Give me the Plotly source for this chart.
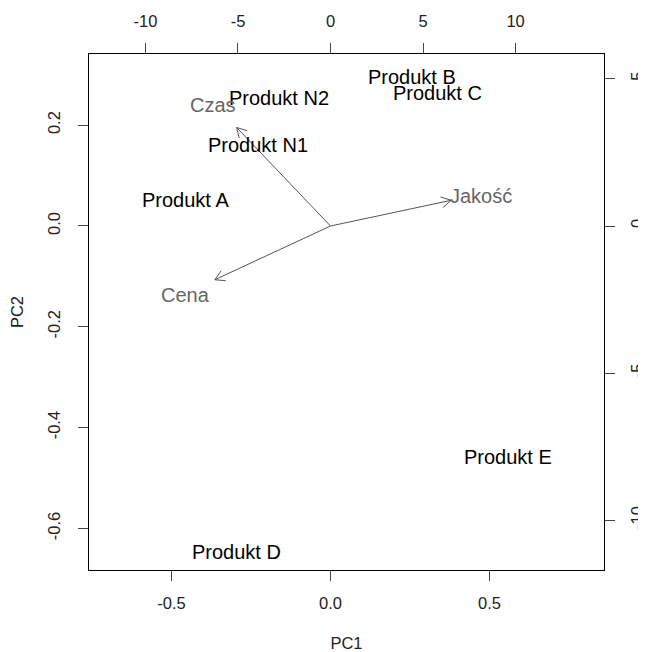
import numpy as np
import plotly.graph_objects as go

# Observations (scores) on PC1 / PC2 (bottom / left axes)
obs_names = ["Produkt A", "Produkt B", "Produkt C", "Produkt D",
             "Produkt E", "Produkt N1", "Produkt N2"]
pc1 = [-0.456, 0.256, 0.338, -0.295, 0.558, -0.229, -0.161]
pc2 = [0.055, 0.300, 0.267, -0.643, -0.455, 0.164, 0.258]

# Variables (loadings) on top / right axes
var_names = ["Cena", "Jakość", "Czas"]
load1 = [-7.81, 8.14, -6.34]
load2 = [-2.28, 1.09, 4.18]

x_tickvals = [-0.5, 0.0, 0.5]
x_ticktext = ["-0.5", "0.0", "0.5"]
y_tickvals = [-0.6, -0.4, -0.2, 0.0, 0.2]
y_ticktext = ["-0.6", "-0.4", "-0.2", "0.0", "0.2"]
x2_tickvals = [-10, -5, 0, 5, 10]
x2_ticktext = ["-10", "-5", "0", "5", "10"]
y2_tickvals = [-10, -5, 0, 5]
y2_ticktext = ["-10", "-5", "0", "5"]

# page body has an 8px margin; compensate
W, H = 638, 644
ML, MR, MT, MB = 81, 42, 46, 82
PW, PH = W - ML - MR, H - MT - MB

xr = [-0.7594, 0.860]
yr = [-0.6825, 0.341]
x2r = [-13.05, 14.78]
y2r = [-11.68, 5.84]

FONT = "Liberation Sans, Arial, sans-serif"

fig = go.Figure()

# invisible anchor trace so the primary axes exist
fig.add_trace(go.Scatter(x=pc1, y=pc2, mode="markers", marker=dict(opacity=0),
                         xaxis="x", yaxis="y", hoverinfo="skip", showlegend=False))

# arrows from origin to 0.8 * loadings (biplot convention)
sx = PW / (x2r[1] - x2r[0])
sy = PH / (y2r[1] - y2r[0])
head_len = 11.0
head_ang = np.deg2rad(30)
ax_x, ax_y = [], []
for l1, l2 in zip(load1, load2):
    tx, ty = 0.8 * l1, 0.8 * l2
    ax_x += [0, tx, None]
    ax_y += [0, ty, None]
    dx, dy = tx * sx, ty * sy
    ang = np.arctan2(dy, dx)
    for s in (1, -1):
        a = ang + np.pi - s * head_ang
        bx = tx + head_len * np.cos(a) / sx
        by = ty + head_len * np.sin(a) / sy
        ax_x += [tx, bx, None]
        ax_y += [ty, by, None]

fig.add_trace(go.Scatter(
    x=ax_x, y=ax_y, mode="lines",
    line=dict(color="#555555", width=1),
    xaxis="x2", yaxis="y2", hoverinfo="skip", showlegend=False))

annotations = []
for name, x, y in zip(obs_names, pc1, pc2):
    annotations.append(dict(x=x, y=y, xref="x", yref="y", text=name,
                            showarrow=False, xanchor="center", yanchor="middle",
                            yshift=-2,
                            font=dict(family=FONT, size=20, color="#000000")))
for name, x, y in zip(var_names, load1, load2):
    annotations.append(dict(x=x, y=y, xref="x2", yref="y2", text=name,
                            showarrow=False, xanchor="center", yanchor="middle",
                            yshift=-2,
                            font=dict(family=FONT, size=20, color="#666666")))

tickfont = dict(family=FONT, size=16.5, color="#222222")
common = dict(showgrid=False, zeroline=False, ticks="outside", ticklen=10,
              tickwidth=1, tickcolor="#444444", tickfont=tickfont)

fig.update_layout(
    width=W, height=H,
    margin=dict(l=ML, r=MR, t=MT, b=MB, autoexpand=False),
    paper_bgcolor="white", plot_bgcolor="white",
    annotations=annotations,
    xaxis=dict(range=xr, tickvals=x_tickvals, ticktext=x_ticktext,
               showline=True, linecolor="#000000", linewidth=1, mirror=True,
               title=dict(text="PC1", font=dict(family=FONT, size=16.5, color="#222222"),
                          standoff=35),
               ticklabelstandoff=8, **common),
    yaxis=dict(range=yr, tickvals=y_tickvals, ticktext=y_ticktext,
               showline=True, linecolor="#000000", linewidth=1, mirror=True,
               tickangle=-90,
               title=dict(text="PC2", font=dict(family=FONT, size=16.5, color="#222222"),
                          standoff=20),
               ticklabelstandoff=11, **common),
    xaxis2=dict(range=x2r, tickvals=x2_tickvals, ticktext=x2_ticktext,
                overlaying="x", side="top",
                anchor="y", showline=False, ticklabelstandoff=9, **common),
    yaxis2=dict(range=y2r, tickvals=y2_tickvals, ticktext=y2_ticktext,
                overlaying="y", side="right",
                anchor="x", showline=False, tickangle=-90,
                ticklabelstandoff=8, **common),
)

fig.write_html("out.html")
